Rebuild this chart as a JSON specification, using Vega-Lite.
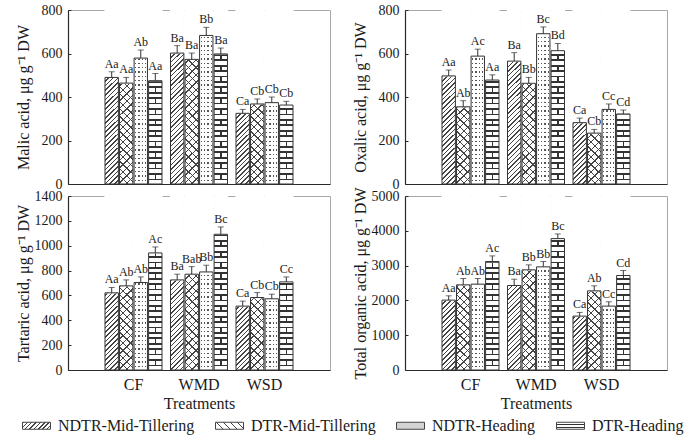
{
"$schema": "https://vega.github.io/schema/vega-lite/v6.json",
"padding": {"left": 14, "top": 2, "right": 5, "bottom": 2},
"params": [
{"name": "gH", "value": {"gradient": "linear", "x1": 0, "y1": 0, "x2": 0.082, "y2": 1.07, "stops": [
{"offset":0,"color":"#444"},{"offset":0.008,"color":"#444"},{"offset":0.008,"color":"#fff"},{"offset":0.025,"color":"#fff"},
{"offset":0.025,"color":"#444"},{"offset":0.033,"color":"#444"},{"offset":0.033,"color":"#fff"},{"offset":0.05,"color":"#fff"},
{"offset":0.05,"color":"#444"},{"offset":0.058,"color":"#444"},{"offset":0.058,"color":"#fff"},{"offset":0.075,"color":"#fff"},
{"offset":0.075,"color":"#444"},{"offset":0.083,"color":"#444"},{"offset":0.083,"color":"#fff"},{"offset":0.1,"color":"#fff"},
{"offset":0.1,"color":"#444"},{"offset":0.108,"color":"#444"},{"offset":0.108,"color":"#fff"},{"offset":0.125,"color":"#fff"},
{"offset":0.125,"color":"#444"},{"offset":0.133,"color":"#444"},{"offset":0.133,"color":"#fff"},{"offset":0.15,"color":"#fff"},
{"offset":0.15,"color":"#444"},{"offset":0.158,"color":"#444"},{"offset":0.158,"color":"#fff"},{"offset":0.175,"color":"#fff"},
{"offset":0.175,"color":"#444"},{"offset":0.183,"color":"#444"},{"offset":0.183,"color":"#fff"},{"offset":0.2,"color":"#fff"},
{"offset":0.2,"color":"#444"},{"offset":0.208,"color":"#444"},{"offset":0.208,"color":"#fff"},{"offset":0.225,"color":"#fff"},
{"offset":0.225,"color":"#444"},{"offset":0.233,"color":"#444"},{"offset":0.233,"color":"#fff"},{"offset":0.25,"color":"#fff"},
{"offset":0.25,"color":"#444"},{"offset":0.258,"color":"#444"},{"offset":0.258,"color":"#fff"},{"offset":0.275,"color":"#fff"},
{"offset":0.275,"color":"#444"},{"offset":0.283,"color":"#444"},{"offset":0.283,"color":"#fff"},{"offset":0.3,"color":"#fff"},
{"offset":0.3,"color":"#444"},{"offset":0.308,"color":"#444"},{"offset":0.308,"color":"#fff"},{"offset":0.325,"color":"#fff"},
{"offset":0.325,"color":"#444"},{"offset":0.333,"color":"#444"},{"offset":0.333,"color":"#fff"},{"offset":0.35,"color":"#fff"},
{"offset":0.35,"color":"#444"},{"offset":0.358,"color":"#444"},{"offset":0.358,"color":"#fff"},{"offset":0.375,"color":"#fff"},
{"offset":0.375,"color":"#444"},{"offset":0.383,"color":"#444"},{"offset":0.383,"color":"#fff"},{"offset":0.4,"color":"#fff"},
{"offset":0.4,"color":"#444"},{"offset":0.408,"color":"#444"},{"offset":0.408,"color":"#fff"},{"offset":0.425,"color":"#fff"},
{"offset":0.425,"color":"#444"},{"offset":0.433,"color":"#444"},{"offset":0.433,"color":"#fff"},{"offset":0.45,"color":"#fff"},
{"offset":0.45,"color":"#444"},{"offset":0.458,"color":"#444"},{"offset":0.458,"color":"#fff"},{"offset":0.475,"color":"#fff"},
{"offset":0.475,"color":"#444"},{"offset":0.483,"color":"#444"},{"offset":0.483,"color":"#fff"},{"offset":0.5,"color":"#fff"},
{"offset":0.5,"color":"#444"},{"offset":0.508,"color":"#444"},{"offset":0.508,"color":"#fff"},{"offset":0.525,"color":"#fff"},
{"offset":0.525,"color":"#444"},{"offset":0.533,"color":"#444"},{"offset":0.533,"color":"#fff"},{"offset":0.55,"color":"#fff"},
{"offset":0.55,"color":"#444"},{"offset":0.558,"color":"#444"},{"offset":0.558,"color":"#fff"},{"offset":0.575,"color":"#fff"},
{"offset":0.575,"color":"#444"},{"offset":0.583,"color":"#444"},{"offset":0.583,"color":"#fff"},{"offset":0.6,"color":"#fff"},
{"offset":0.6,"color":"#444"},{"offset":0.608,"color":"#444"},{"offset":0.608,"color":"#fff"},{"offset":0.625,"color":"#fff"},
{"offset":0.625,"color":"#444"},{"offset":0.633,"color":"#444"},{"offset":0.633,"color":"#fff"},{"offset":0.65,"color":"#fff"},
{"offset":0.65,"color":"#444"},{"offset":0.658,"color":"#444"},{"offset":0.658,"color":"#fff"},{"offset":0.675,"color":"#fff"},
{"offset":0.675,"color":"#444"},{"offset":0.683,"color":"#444"},{"offset":0.683,"color":"#fff"},{"offset":0.7,"color":"#fff"},
{"offset":0.7,"color":"#444"},{"offset":0.708,"color":"#444"},{"offset":0.708,"color":"#fff"},{"offset":0.725,"color":"#fff"},
{"offset":0.725,"color":"#444"},{"offset":0.733,"color":"#444"},{"offset":0.733,"color":"#fff"},{"offset":0.75,"color":"#fff"},
{"offset":0.75,"color":"#444"},{"offset":0.758,"color":"#444"},{"offset":0.758,"color":"#fff"},{"offset":0.775,"color":"#fff"},
{"offset":0.775,"color":"#444"},{"offset":0.783,"color":"#444"},{"offset":0.783,"color":"#fff"},{"offset":0.8,"color":"#fff"},
{"offset":0.8,"color":"#444"},{"offset":0.808,"color":"#444"},{"offset":0.808,"color":"#fff"},{"offset":0.825,"color":"#fff"},
{"offset":0.825,"color":"#444"},{"offset":0.833,"color":"#444"},{"offset":0.833,"color":"#fff"},{"offset":0.85,"color":"#fff"},
{"offset":0.85,"color":"#444"},{"offset":0.858,"color":"#444"},{"offset":0.858,"color":"#fff"},{"offset":0.875,"color":"#fff"},
{"offset":0.875,"color":"#444"},{"offset":0.883,"color":"#444"},{"offset":0.883,"color":"#fff"},{"offset":0.9,"color":"#fff"},
{"offset":0.9,"color":"#444"},{"offset":0.908,"color":"#444"},{"offset":0.908,"color":"#fff"},{"offset":0.925,"color":"#fff"},
{"offset":0.925,"color":"#444"},{"offset":0.933,"color":"#444"},{"offset":0.933,"color":"#fff"},{"offset":0.95,"color":"#fff"},
{"offset":0.95,"color":"#444"},{"offset":0.958,"color":"#444"},{"offset":0.958,"color":"#fff"},{"offset":0.975,"color":"#fff"},
{"offset":0.975,"color":"#444"},{"offset":0.983,"color":"#444"},{"offset":0.983,"color":"#fff"},{"offset":1,"color":"#fff"}
]}},
{"name": "gC1", "value": {"gradient": "linear", "x1": 0, "y1": 0, "x2": 0.082, "y2": 1.07, "stops": [
{"offset":0,"color":"#444"},{"offset":0.007,"color":"#444"},{"offset":0.007,"color":"#fff"},{"offset":0.04,"color":"#fff"},
{"offset":0.04,"color":"#444"},{"offset":0.047,"color":"#444"},{"offset":0.047,"color":"#fff"},{"offset":0.08,"color":"#fff"},
{"offset":0.08,"color":"#444"},{"offset":0.087,"color":"#444"},{"offset":0.087,"color":"#fff"},{"offset":0.12,"color":"#fff"},
{"offset":0.12,"color":"#444"},{"offset":0.127,"color":"#444"},{"offset":0.127,"color":"#fff"},{"offset":0.16,"color":"#fff"},
{"offset":0.16,"color":"#444"},{"offset":0.167,"color":"#444"},{"offset":0.167,"color":"#fff"},{"offset":0.2,"color":"#fff"},
{"offset":0.2,"color":"#444"},{"offset":0.207,"color":"#444"},{"offset":0.207,"color":"#fff"},{"offset":0.24,"color":"#fff"},
{"offset":0.24,"color":"#444"},{"offset":0.247,"color":"#444"},{"offset":0.247,"color":"#fff"},{"offset":0.28,"color":"#fff"},
{"offset":0.28,"color":"#444"},{"offset":0.287,"color":"#444"},{"offset":0.287,"color":"#fff"},{"offset":0.32,"color":"#fff"},
{"offset":0.32,"color":"#444"},{"offset":0.327,"color":"#444"},{"offset":0.327,"color":"#fff"},{"offset":0.36,"color":"#fff"},
{"offset":0.36,"color":"#444"},{"offset":0.367,"color":"#444"},{"offset":0.367,"color":"#fff"},{"offset":0.4,"color":"#fff"},
{"offset":0.4,"color":"#444"},{"offset":0.407,"color":"#444"},{"offset":0.407,"color":"#fff"},{"offset":0.44,"color":"#fff"},
{"offset":0.44,"color":"#444"},{"offset":0.447,"color":"#444"},{"offset":0.447,"color":"#fff"},{"offset":0.48,"color":"#fff"},
{"offset":0.48,"color":"#444"},{"offset":0.487,"color":"#444"},{"offset":0.487,"color":"#fff"},{"offset":0.52,"color":"#fff"},
{"offset":0.52,"color":"#444"},{"offset":0.527,"color":"#444"},{"offset":0.527,"color":"#fff"},{"offset":0.56,"color":"#fff"},
{"offset":0.56,"color":"#444"},{"offset":0.567,"color":"#444"},{"offset":0.567,"color":"#fff"},{"offset":0.6,"color":"#fff"},
{"offset":0.6,"color":"#444"},{"offset":0.607,"color":"#444"},{"offset":0.607,"color":"#fff"},{"offset":0.64,"color":"#fff"},
{"offset":0.64,"color":"#444"},{"offset":0.647,"color":"#444"},{"offset":0.647,"color":"#fff"},{"offset":0.68,"color":"#fff"},
{"offset":0.68,"color":"#444"},{"offset":0.687,"color":"#444"},{"offset":0.687,"color":"#fff"},{"offset":0.72,"color":"#fff"},
{"offset":0.72,"color":"#444"},{"offset":0.727,"color":"#444"},{"offset":0.727,"color":"#fff"},{"offset":0.76,"color":"#fff"},
{"offset":0.76,"color":"#444"},{"offset":0.767,"color":"#444"},{"offset":0.767,"color":"#fff"},{"offset":0.8,"color":"#fff"},
{"offset":0.8,"color":"#444"},{"offset":0.807,"color":"#444"},{"offset":0.807,"color":"#fff"},{"offset":0.84,"color":"#fff"},
{"offset":0.84,"color":"#444"},{"offset":0.847,"color":"#444"},{"offset":0.847,"color":"#fff"},{"offset":0.88,"color":"#fff"},
{"offset":0.88,"color":"#444"},{"offset":0.887,"color":"#444"},{"offset":0.887,"color":"#fff"},{"offset":0.92,"color":"#fff"},
{"offset":0.92,"color":"#444"},{"offset":0.927,"color":"#444"},{"offset":0.927,"color":"#fff"},{"offset":0.96,"color":"#fff"},
{"offset":0.96,"color":"#444"},{"offset":0.967,"color":"#444"},{"offset":0.967,"color":"#fff"},{"offset":1,"color":"#fff"}
]}},
{"name": "gC2", "value": {"gradient": "linear", "x1": 0, "y1": 1, "x2": 0.082, "y2": -0.07, "stops": [
{"offset":0,"color":"#444"},{"offset":0.007,"color":"#444"},{"offset":0.007,"color":"rgba(255,255,255,0)"},{"offset":0.04,"color":"rgba(255,255,255,0)"},
{"offset":0.04,"color":"#444"},{"offset":0.047,"color":"#444"},{"offset":0.047,"color":"rgba(255,255,255,0)"},{"offset":0.08,"color":"rgba(255,255,255,0)"},
{"offset":0.08,"color":"#444"},{"offset":0.087,"color":"#444"},{"offset":0.087,"color":"rgba(255,255,255,0)"},{"offset":0.12,"color":"rgba(255,255,255,0)"},
{"offset":0.12,"color":"#444"},{"offset":0.127,"color":"#444"},{"offset":0.127,"color":"rgba(255,255,255,0)"},{"offset":0.16,"color":"rgba(255,255,255,0)"},
{"offset":0.16,"color":"#444"},{"offset":0.167,"color":"#444"},{"offset":0.167,"color":"rgba(255,255,255,0)"},{"offset":0.2,"color":"rgba(255,255,255,0)"},
{"offset":0.2,"color":"#444"},{"offset":0.207,"color":"#444"},{"offset":0.207,"color":"rgba(255,255,255,0)"},{"offset":0.24,"color":"rgba(255,255,255,0)"},
{"offset":0.24,"color":"#444"},{"offset":0.247,"color":"#444"},{"offset":0.247,"color":"rgba(255,255,255,0)"},{"offset":0.28,"color":"rgba(255,255,255,0)"},
{"offset":0.28,"color":"#444"},{"offset":0.287,"color":"#444"},{"offset":0.287,"color":"rgba(255,255,255,0)"},{"offset":0.32,"color":"rgba(255,255,255,0)"},
{"offset":0.32,"color":"#444"},{"offset":0.327,"color":"#444"},{"offset":0.327,"color":"rgba(255,255,255,0)"},{"offset":0.36,"color":"rgba(255,255,255,0)"},
{"offset":0.36,"color":"#444"},{"offset":0.367,"color":"#444"},{"offset":0.367,"color":"rgba(255,255,255,0)"},{"offset":0.4,"color":"rgba(255,255,255,0)"},
{"offset":0.4,"color":"#444"},{"offset":0.407,"color":"#444"},{"offset":0.407,"color":"rgba(255,255,255,0)"},{"offset":0.44,"color":"rgba(255,255,255,0)"},
{"offset":0.44,"color":"#444"},{"offset":0.447,"color":"#444"},{"offset":0.447,"color":"rgba(255,255,255,0)"},{"offset":0.48,"color":"rgba(255,255,255,0)"},
{"offset":0.48,"color":"#444"},{"offset":0.487,"color":"#444"},{"offset":0.487,"color":"rgba(255,255,255,0)"},{"offset":0.52,"color":"rgba(255,255,255,0)"},
{"offset":0.52,"color":"#444"},{"offset":0.527,"color":"#444"},{"offset":0.527,"color":"rgba(255,255,255,0)"},{"offset":0.56,"color":"rgba(255,255,255,0)"},
{"offset":0.56,"color":"#444"},{"offset":0.567,"color":"#444"},{"offset":0.567,"color":"rgba(255,255,255,0)"},{"offset":0.6,"color":"rgba(255,255,255,0)"},
{"offset":0.6,"color":"#444"},{"offset":0.607,"color":"#444"},{"offset":0.607,"color":"rgba(255,255,255,0)"},{"offset":0.64,"color":"rgba(255,255,255,0)"},
{"offset":0.64,"color":"#444"},{"offset":0.647,"color":"#444"},{"offset":0.647,"color":"rgba(255,255,255,0)"},{"offset":0.68,"color":"rgba(255,255,255,0)"},
{"offset":0.68,"color":"#444"},{"offset":0.687,"color":"#444"},{"offset":0.687,"color":"rgba(255,255,255,0)"},{"offset":0.72,"color":"rgba(255,255,255,0)"},
{"offset":0.72,"color":"#444"},{"offset":0.727,"color":"#444"},{"offset":0.727,"color":"rgba(255,255,255,0)"},{"offset":0.76,"color":"rgba(255,255,255,0)"},
{"offset":0.76,"color":"#444"},{"offset":0.767,"color":"#444"},{"offset":0.767,"color":"rgba(255,255,255,0)"},{"offset":0.8,"color":"rgba(255,255,255,0)"},
{"offset":0.8,"color":"#444"},{"offset":0.807,"color":"#444"},{"offset":0.807,"color":"rgba(255,255,255,0)"},{"offset":0.84,"color":"rgba(255,255,255,0)"},
{"offset":0.84,"color":"#444"},{"offset":0.847,"color":"#444"},{"offset":0.847,"color":"rgba(255,255,255,0)"},{"offset":0.88,"color":"rgba(255,255,255,0)"},
{"offset":0.88,"color":"#444"},{"offset":0.887,"color":"#444"},{"offset":0.887,"color":"rgba(255,255,255,0)"},{"offset":0.92,"color":"rgba(255,255,255,0)"},
{"offset":0.92,"color":"#444"},{"offset":0.927,"color":"#444"},{"offset":0.927,"color":"rgba(255,255,255,0)"},{"offset":0.96,"color":"rgba(255,255,255,0)"},
{"offset":0.96,"color":"#444"},{"offset":0.967,"color":"#444"},{"offset":0.967,"color":"rgba(255,255,255,0)"},{"offset":1,"color":"rgba(255,255,255,0)"}
]}},
{"name": "gD1", "value": {"gradient": "linear", "x1": 0, "y1": 0, "x2": 1, "y2": 0, "stops": [
{"offset":0,"color":"#fff"},{"offset":0.075,"color":"#fff"},{"offset":0.075,"color":"#555"},{"offset":0.175,"color":"#555"},{"offset":0.175,"color":"#fff"},
{"offset":0.325,"color":"#fff"},{"offset":0.325,"color":"#555"},{"offset":0.425,"color":"#555"},{"offset":0.425,"color":"#fff"},
{"offset":0.575,"color":"#fff"},{"offset":0.575,"color":"#555"},{"offset":0.675,"color":"#555"},{"offset":0.675,"color":"#fff"},
{"offset":0.825,"color":"#fff"},{"offset":0.825,"color":"#555"},{"offset":0.925,"color":"#555"},{"offset":0.925,"color":"#fff"},{"offset":1,"color":"#fff"}
]}},
{"name": "gD2", "value": {"gradient": "linear", "x1": 0, "y1": 0, "x2": 0, "y2": 1, "stops": [
{"offset":0,"color":"rgba(255,255,255,0)"},{"offset":0.008,"color":"rgba(255,255,255,0)"},{"offset":0.008,"color":"#fff"},{"offset":0.025,"color":"#fff"},
{"offset":0.025,"color":"rgba(255,255,255,0)"},{"offset":0.033,"color":"rgba(255,255,255,0)"},{"offset":0.033,"color":"#fff"},{"offset":0.05,"color":"#fff"},
{"offset":0.05,"color":"rgba(255,255,255,0)"},{"offset":0.058,"color":"rgba(255,255,255,0)"},{"offset":0.058,"color":"#fff"},{"offset":0.075,"color":"#fff"},
{"offset":0.075,"color":"rgba(255,255,255,0)"},{"offset":0.083,"color":"rgba(255,255,255,0)"},{"offset":0.083,"color":"#fff"},{"offset":0.1,"color":"#fff"},
{"offset":0.1,"color":"rgba(255,255,255,0)"},{"offset":0.108,"color":"rgba(255,255,255,0)"},{"offset":0.108,"color":"#fff"},{"offset":0.125,"color":"#fff"},
{"offset":0.125,"color":"rgba(255,255,255,0)"},{"offset":0.133,"color":"rgba(255,255,255,0)"},{"offset":0.133,"color":"#fff"},{"offset":0.15,"color":"#fff"},
{"offset":0.15,"color":"rgba(255,255,255,0)"},{"offset":0.158,"color":"rgba(255,255,255,0)"},{"offset":0.158,"color":"#fff"},{"offset":0.175,"color":"#fff"},
{"offset":0.175,"color":"rgba(255,255,255,0)"},{"offset":0.183,"color":"rgba(255,255,255,0)"},{"offset":0.183,"color":"#fff"},{"offset":0.2,"color":"#fff"},
{"offset":0.2,"color":"rgba(255,255,255,0)"},{"offset":0.208,"color":"rgba(255,255,255,0)"},{"offset":0.208,"color":"#fff"},{"offset":0.225,"color":"#fff"},
{"offset":0.225,"color":"rgba(255,255,255,0)"},{"offset":0.233,"color":"rgba(255,255,255,0)"},{"offset":0.233,"color":"#fff"},{"offset":0.25,"color":"#fff"},
{"offset":0.25,"color":"rgba(255,255,255,0)"},{"offset":0.258,"color":"rgba(255,255,255,0)"},{"offset":0.258,"color":"#fff"},{"offset":0.275,"color":"#fff"},
{"offset":0.275,"color":"rgba(255,255,255,0)"},{"offset":0.283,"color":"rgba(255,255,255,0)"},{"offset":0.283,"color":"#fff"},{"offset":0.3,"color":"#fff"},
{"offset":0.3,"color":"rgba(255,255,255,0)"},{"offset":0.308,"color":"rgba(255,255,255,0)"},{"offset":0.308,"color":"#fff"},{"offset":0.325,"color":"#fff"},
{"offset":0.325,"color":"rgba(255,255,255,0)"},{"offset":0.333,"color":"rgba(255,255,255,0)"},{"offset":0.333,"color":"#fff"},{"offset":0.35,"color":"#fff"},
{"offset":0.35,"color":"rgba(255,255,255,0)"},{"offset":0.358,"color":"rgba(255,255,255,0)"},{"offset":0.358,"color":"#fff"},{"offset":0.375,"color":"#fff"},
{"offset":0.375,"color":"rgba(255,255,255,0)"},{"offset":0.383,"color":"rgba(255,255,255,0)"},{"offset":0.383,"color":"#fff"},{"offset":0.4,"color":"#fff"},
{"offset":0.4,"color":"rgba(255,255,255,0)"},{"offset":0.408,"color":"rgba(255,255,255,0)"},{"offset":0.408,"color":"#fff"},{"offset":0.425,"color":"#fff"},
{"offset":0.425,"color":"rgba(255,255,255,0)"},{"offset":0.433,"color":"rgba(255,255,255,0)"},{"offset":0.433,"color":"#fff"},{"offset":0.45,"color":"#fff"},
{"offset":0.45,"color":"rgba(255,255,255,0)"},{"offset":0.458,"color":"rgba(255,255,255,0)"},{"offset":0.458,"color":"#fff"},{"offset":0.475,"color":"#fff"},
{"offset":0.475,"color":"rgba(255,255,255,0)"},{"offset":0.483,"color":"rgba(255,255,255,0)"},{"offset":0.483,"color":"#fff"},{"offset":0.5,"color":"#fff"},
{"offset":0.5,"color":"rgba(255,255,255,0)"},{"offset":0.508,"color":"rgba(255,255,255,0)"},{"offset":0.508,"color":"#fff"},{"offset":0.525,"color":"#fff"},
{"offset":0.525,"color":"rgba(255,255,255,0)"},{"offset":0.533,"color":"rgba(255,255,255,0)"},{"offset":0.533,"color":"#fff"},{"offset":0.55,"color":"#fff"},
{"offset":0.55,"color":"rgba(255,255,255,0)"},{"offset":0.558,"color":"rgba(255,255,255,0)"},{"offset":0.558,"color":"#fff"},{"offset":0.575,"color":"#fff"},
{"offset":0.575,"color":"rgba(255,255,255,0)"},{"offset":0.583,"color":"rgba(255,255,255,0)"},{"offset":0.583,"color":"#fff"},{"offset":0.6,"color":"#fff"},
{"offset":0.6,"color":"rgba(255,255,255,0)"},{"offset":0.608,"color":"rgba(255,255,255,0)"},{"offset":0.608,"color":"#fff"},{"offset":0.625,"color":"#fff"},
{"offset":0.625,"color":"rgba(255,255,255,0)"},{"offset":0.633,"color":"rgba(255,255,255,0)"},{"offset":0.633,"color":"#fff"},{"offset":0.65,"color":"#fff"},
{"offset":0.65,"color":"rgba(255,255,255,0)"},{"offset":0.658,"color":"rgba(255,255,255,0)"},{"offset":0.658,"color":"#fff"},{"offset":0.675,"color":"#fff"},
{"offset":0.675,"color":"rgba(255,255,255,0)"},{"offset":0.683,"color":"rgba(255,255,255,0)"},{"offset":0.683,"color":"#fff"},{"offset":0.7,"color":"#fff"},
{"offset":0.7,"color":"rgba(255,255,255,0)"},{"offset":0.708,"color":"rgba(255,255,255,0)"},{"offset":0.708,"color":"#fff"},{"offset":0.725,"color":"#fff"},
{"offset":0.725,"color":"rgba(255,255,255,0)"},{"offset":0.733,"color":"rgba(255,255,255,0)"},{"offset":0.733,"color":"#fff"},{"offset":0.75,"color":"#fff"},
{"offset":0.75,"color":"rgba(255,255,255,0)"},{"offset":0.758,"color":"rgba(255,255,255,0)"},{"offset":0.758,"color":"#fff"},{"offset":0.775,"color":"#fff"},
{"offset":0.775,"color":"rgba(255,255,255,0)"},{"offset":0.783,"color":"rgba(255,255,255,0)"},{"offset":0.783,"color":"#fff"},{"offset":0.8,"color":"#fff"},
{"offset":0.8,"color":"rgba(255,255,255,0)"},{"offset":0.808,"color":"rgba(255,255,255,0)"},{"offset":0.808,"color":"#fff"},{"offset":0.825,"color":"#fff"},
{"offset":0.825,"color":"rgba(255,255,255,0)"},{"offset":0.833,"color":"rgba(255,255,255,0)"},{"offset":0.833,"color":"#fff"},{"offset":0.85,"color":"#fff"},
{"offset":0.85,"color":"rgba(255,255,255,0)"},{"offset":0.858,"color":"rgba(255,255,255,0)"},{"offset":0.858,"color":"#fff"},{"offset":0.875,"color":"#fff"},
{"offset":0.875,"color":"rgba(255,255,255,0)"},{"offset":0.883,"color":"rgba(255,255,255,0)"},{"offset":0.883,"color":"#fff"},{"offset":0.9,"color":"#fff"},
{"offset":0.9,"color":"rgba(255,255,255,0)"},{"offset":0.908,"color":"rgba(255,255,255,0)"},{"offset":0.908,"color":"#fff"},{"offset":0.925,"color":"#fff"},
{"offset":0.925,"color":"rgba(255,255,255,0)"},{"offset":0.933,"color":"rgba(255,255,255,0)"},{"offset":0.933,"color":"#fff"},{"offset":0.95,"color":"#fff"},
{"offset":0.95,"color":"rgba(255,255,255,0)"},{"offset":0.958,"color":"rgba(255,255,255,0)"},{"offset":0.958,"color":"#fff"},{"offset":0.975,"color":"#fff"},
{"offset":0.975,"color":"rgba(255,255,255,0)"},{"offset":0.983,"color":"rgba(255,255,255,0)"},{"offset":0.983,"color":"#fff"},{"offset":1,"color":"#fff"}
]}},
{"name": "gB1", "value": {"gradient": "linear", "x1": 0, "y1": 0, "x2": 1, "y2": 0, "stops": [
{"offset":0,"color":"#fff"},{"offset":0.44,"color":"#fff"},{"offset":0.44,"color":"#333"},{"offset":0.56,"color":"#333"},{"offset":0.56,"color":"#fff"},{"offset":1,"color":"#fff"}
]}},
{"name": "gB2", "value": {"gradient": "linear", "x1": 0, "y1": 0, "x2": 0, "y2": 1, "stops": [
{"offset":0,"color":"#333"},{"offset":0.01,"color":"#333"},{"offset":0.01,"color":"rgba(255,255,255,0)"},{"offset":0.03125,"color":"rgba(255,255,255,0)"},{"offset":0.03125,"color":"#333"},{"offset":0.04125,"color":"#333"},{"offset":0.04125,"color":"#fff"},{"offset":0.0625,"color":"#fff"},
{"offset":0.0625,"color":"#333"},{"offset":0.0725,"color":"#333"},{"offset":0.0725,"color":"rgba(255,255,255,0)"},{"offset":0.09375,"color":"rgba(255,255,255,0)"},{"offset":0.09375,"color":"#333"},{"offset":0.10375,"color":"#333"},{"offset":0.10375,"color":"#fff"},{"offset":0.125,"color":"#fff"},
{"offset":0.125,"color":"#333"},{"offset":0.135,"color":"#333"},{"offset":0.135,"color":"rgba(255,255,255,0)"},{"offset":0.15625,"color":"rgba(255,255,255,0)"},{"offset":0.15625,"color":"#333"},{"offset":0.16625,"color":"#333"},{"offset":0.16625,"color":"#fff"},{"offset":0.1875,"color":"#fff"},
{"offset":0.1875,"color":"#333"},{"offset":0.1975,"color":"#333"},{"offset":0.1975,"color":"rgba(255,255,255,0)"},{"offset":0.21875,"color":"rgba(255,255,255,0)"},{"offset":0.21875,"color":"#333"},{"offset":0.22875,"color":"#333"},{"offset":0.22875,"color":"#fff"},{"offset":0.25,"color":"#fff"},
{"offset":0.25,"color":"#333"},{"offset":0.26,"color":"#333"},{"offset":0.26,"color":"rgba(255,255,255,0)"},{"offset":0.28125,"color":"rgba(255,255,255,0)"},{"offset":0.28125,"color":"#333"},{"offset":0.29125,"color":"#333"},{"offset":0.29125,"color":"#fff"},{"offset":0.3125,"color":"#fff"},
{"offset":0.3125,"color":"#333"},{"offset":0.3225,"color":"#333"},{"offset":0.3225,"color":"rgba(255,255,255,0)"},{"offset":0.34375,"color":"rgba(255,255,255,0)"},{"offset":0.34375,"color":"#333"},{"offset":0.35375,"color":"#333"},{"offset":0.35375,"color":"#fff"},{"offset":0.375,"color":"#fff"},
{"offset":0.375,"color":"#333"},{"offset":0.385,"color":"#333"},{"offset":0.385,"color":"rgba(255,255,255,0)"},{"offset":0.40625,"color":"rgba(255,255,255,0)"},{"offset":0.40625,"color":"#333"},{"offset":0.41625,"color":"#333"},{"offset":0.41625,"color":"#fff"},{"offset":0.4375,"color":"#fff"},
{"offset":0.4375,"color":"#333"},{"offset":0.4475,"color":"#333"},{"offset":0.4475,"color":"rgba(255,255,255,0)"},{"offset":0.46875,"color":"rgba(255,255,255,0)"},{"offset":0.46875,"color":"#333"},{"offset":0.47875,"color":"#333"},{"offset":0.47875,"color":"#fff"},{"offset":0.5,"color":"#fff"},
{"offset":0.5,"color":"#333"},{"offset":0.51,"color":"#333"},{"offset":0.51,"color":"rgba(255,255,255,0)"},{"offset":0.53125,"color":"rgba(255,255,255,0)"},{"offset":0.53125,"color":"#333"},{"offset":0.54125,"color":"#333"},{"offset":0.54125,"color":"#fff"},{"offset":0.5625,"color":"#fff"},
{"offset":0.5625,"color":"#333"},{"offset":0.5725,"color":"#333"},{"offset":0.5725,"color":"rgba(255,255,255,0)"},{"offset":0.59375,"color":"rgba(255,255,255,0)"},{"offset":0.59375,"color":"#333"},{"offset":0.60375,"color":"#333"},{"offset":0.60375,"color":"#fff"},{"offset":0.625,"color":"#fff"},
{"offset":0.625,"color":"#333"},{"offset":0.635,"color":"#333"},{"offset":0.635,"color":"rgba(255,255,255,0)"},{"offset":0.65625,"color":"rgba(255,255,255,0)"},{"offset":0.65625,"color":"#333"},{"offset":0.66625,"color":"#333"},{"offset":0.66625,"color":"#fff"},{"offset":0.6875,"color":"#fff"},
{"offset":0.6875,"color":"#333"},{"offset":0.6975,"color":"#333"},{"offset":0.6975,"color":"rgba(255,255,255,0)"},{"offset":0.71875,"color":"rgba(255,255,255,0)"},{"offset":0.71875,"color":"#333"},{"offset":0.72875,"color":"#333"},{"offset":0.72875,"color":"#fff"},{"offset":0.75,"color":"#fff"},
{"offset":0.75,"color":"#333"},{"offset":0.76,"color":"#333"},{"offset":0.76,"color":"rgba(255,255,255,0)"},{"offset":0.78125,"color":"rgba(255,255,255,0)"},{"offset":0.78125,"color":"#333"},{"offset":0.79125,"color":"#333"},{"offset":0.79125,"color":"#fff"},{"offset":0.8125,"color":"#fff"},
{"offset":0.8125,"color":"#333"},{"offset":0.8225,"color":"#333"},{"offset":0.8225,"color":"rgba(255,255,255,0)"},{"offset":0.84375,"color":"rgba(255,255,255,0)"},{"offset":0.84375,"color":"#333"},{"offset":0.85375,"color":"#333"},{"offset":0.85375,"color":"#fff"},{"offset":0.875,"color":"#fff"},
{"offset":0.875,"color":"#333"},{"offset":0.885,"color":"#333"},{"offset":0.885,"color":"rgba(255,255,255,0)"},{"offset":0.90625,"color":"rgba(255,255,255,0)"},{"offset":0.90625,"color":"#333"},{"offset":0.91625,"color":"#333"},{"offset":0.91625,"color":"#fff"},{"offset":0.9375,"color":"#fff"},
{"offset":0.9375,"color":"#333"},{"offset":0.9475,"color":"#333"},{"offset":0.9475,"color":"rgba(255,255,255,0)"},{"offset":0.96875,"color":"rgba(255,255,255,0)"},{"offset":0.96875,"color":"#333"},{"offset":0.97875,"color":"#333"},{"offset":0.97875,"color":"#fff"},{"offset":1,"color":"#fff"}
]}},
{"name": "lH", "value": {"gradient": "linear", "x1": 0, "y1": 0, "x2": 1.176, "y2": 0.294, "stops": [
{"offset":0,"color":"#444"},{"offset":0.04,"color":"#444"},{"offset":0.04,"color":"#fff"},{"offset":0.125,"color":"#fff"},
{"offset":0.125,"color":"#444"},{"offset":0.165,"color":"#444"},{"offset":0.165,"color":"#fff"},{"offset":0.25,"color":"#fff"},
{"offset":0.25,"color":"#444"},{"offset":0.29,"color":"#444"},{"offset":0.29,"color":"#fff"},{"offset":0.375,"color":"#fff"},
{"offset":0.375,"color":"#444"},{"offset":0.415,"color":"#444"},{"offset":0.415,"color":"#fff"},{"offset":0.5,"color":"#fff"},
{"offset":0.5,"color":"#444"},{"offset":0.54,"color":"#444"},{"offset":0.54,"color":"#fff"},{"offset":0.625,"color":"#fff"},
{"offset":0.625,"color":"#444"},{"offset":0.665,"color":"#444"},{"offset":0.665,"color":"#fff"},{"offset":0.75,"color":"#fff"},
{"offset":0.75,"color":"#444"},{"offset":0.79,"color":"#444"},{"offset":0.79,"color":"#fff"},{"offset":0.875,"color":"#fff"},
{"offset":0.875,"color":"#444"},{"offset":0.915,"color":"#444"},{"offset":0.915,"color":"#fff"},{"offset":1,"color":"#fff"}
]}},
{"name": "lC", "value": {"gradient": "linear", "x1": 0, "y1": 1, "x2": 1.176, "y2": 0.706, "stops": [
{"offset":0,"color":"#444"},{"offset":0.04,"color":"#444"},{"offset":0.04,"color":"#fff"},{"offset":0.2,"color":"#fff"},
{"offset":0.2,"color":"#444"},{"offset":0.24,"color":"#444"},{"offset":0.24,"color":"#fff"},{"offset":0.4,"color":"#fff"},
{"offset":0.4,"color":"#444"},{"offset":0.44,"color":"#444"},{"offset":0.44,"color":"#fff"},{"offset":0.6,"color":"#fff"},
{"offset":0.6,"color":"#444"},{"offset":0.64,"color":"#444"},{"offset":0.64,"color":"#fff"},{"offset":0.8,"color":"#fff"},
{"offset":0.8,"color":"#444"},{"offset":0.84,"color":"#444"},{"offset":0.84,"color":"#fff"},{"offset":1,"color":"#fff"}
]}},
{"name": "lB", "value": {"gradient": "linear", "x1": 0, "y1": 0, "x2": 0, "y2": 1, "stops": [
{"offset":0,"color":"#fff"},{"offset":0.3,"color":"#fff"},{"offset":0.3,"color":"#333"},{"offset":0.45,"color":"#333"},{"offset":0.45,"color":"#fff"},
{"offset":0.62,"color":"#fff"},{"offset":0.62,"color":"#333"},{"offset":0.77,"color":"#333"},{"offset":0.77,"color":"#fff"},{"offset":1,"color":"#fff"}
]}}
],
"data": {"values": [
{"panel":"Malic","treatment":"CF","series":"NDTR-Mid-Tillering","value":490,"upper":516,"label":"Aa"},
{"panel":"Malic","treatment":"CF","series":"DTR-Mid-Tillering","value":464,"upper":490,"label":"Aa"},
{"panel":"Malic","treatment":"CF","series":"NDTR-Heading","value":579,"upper":616,"label":"Ab"},
{"panel":"Malic","treatment":"CF","series":"DTR-Heading","value":475,"upper":508,"label":"Aa"},
{"panel":"Malic","treatment":"WMD","series":"NDTR-Mid-Tillering","value":602,"upper":636,"label":"Ba"},
{"panel":"Malic","treatment":"WMD","series":"DTR-Mid-Tillering","value":573,"upper":602,"label":"Ba"},
{"panel":"Malic","treatment":"WMD","series":"NDTR-Heading","value":683,"upper":720,"label":"Bb"},
{"panel":"Malic","treatment":"WMD","series":"DTR-Heading","value":598,"upper":625,"label":"Ba"},
{"panel":"Malic","treatment":"WSD","series":"NDTR-Mid-Tillering","value":325,"upper":343,"label":"Ca"},
{"panel":"Malic","treatment":"WSD","series":"DTR-Mid-Tillering","value":368,"upper":391,"label":"Cb"},
{"panel":"Malic","treatment":"WSD","series":"NDTR-Heading","value":374,"upper":400,"label":"Cb"},
{"panel":"Malic","treatment":"WSD","series":"DTR-Heading","value":363,"upper":380,"label":"Cb"},
{"panel":"Oxalic","treatment":"CF","series":"NDTR-Mid-Tillering","value":497,"upper":524,"label":"Aa"},
{"panel":"Oxalic","treatment":"CF","series":"DTR-Mid-Tillering","value":355,"upper":383,"label":"Ab"},
{"panel":"Oxalic","treatment":"CF","series":"NDTR-Heading","value":588,"upper":620,"label":"Ac"},
{"panel":"Oxalic","treatment":"CF","series":"DTR-Heading","value":478,"upper":502,"label":"Aa"},
{"panel":"Oxalic","treatment":"WMD","series":"NDTR-Mid-Tillering","value":565,"upper":604,"label":"Ba"},
{"panel":"Oxalic","treatment":"WMD","series":"DTR-Mid-Tillering","value":463,"upper":490,"label":"Bb"},
{"panel":"Oxalic","treatment":"WMD","series":"NDTR-Heading","value":691,"upper":722,"label":"Bc"},
{"panel":"Oxalic","treatment":"WMD","series":"DTR-Heading","value":613,"upper":646,"label":"Bd"},
{"panel":"Oxalic","treatment":"WSD","series":"NDTR-Mid-Tillering","value":282,"upper":303,"label":"Ca"},
{"panel":"Oxalic","treatment":"WSD","series":"DTR-Mid-Tillering","value":234,"upper":251,"label":"Cb"},
{"panel":"Oxalic","treatment":"WSD","series":"NDTR-Heading","value":343,"upper":368,"label":"Cc"},
{"panel":"Oxalic","treatment":"WSD","series":"DTR-Heading","value":322,"upper":340,"label":"Cd"},
{"panel":"Tartaric","treatment":"CF","series":"NDTR-Mid-Tillering","value":621,"upper":664,"label":"Aa"},
{"panel":"Tartaric","treatment":"CF","series":"DTR-Mid-Tillering","value":677,"upper":725,"label":"Ab"},
{"panel":"Tartaric","treatment":"CF","series":"NDTR-Heading","value":704,"upper":749,"label":"Ab"},
{"panel":"Tartaric","treatment":"CF","series":"DTR-Heading","value":942,"upper":990,"label":"Ac"},
{"panel":"Tartaric","treatment":"WMD","series":"NDTR-Mid-Tillering","value":725,"upper":771,"label":"Ba"},
{"panel":"Tartaric","treatment":"WMD","series":"DTR-Mid-Tillering","value":771,"upper":832,"label":"Bab"},
{"panel":"Tartaric","treatment":"WMD","series":"NDTR-Heading","value":789,"upper":843,"label":"Bb"},
{"panel":"Tartaric","treatment":"WMD","series":"DTR-Heading","value":1092,"upper":1151,"label":"Bc"},
{"panel":"Tartaric","treatment":"WSD","series":"NDTR-Mid-Tillering","value":514,"upper":554,"label":"Ca"},
{"panel":"Tartaric","treatment":"WSD","series":"DTR-Mid-Tillering","value":583,"upper":623,"label":"Cb"},
{"panel":"Tartaric","treatment":"WSD","series":"NDTR-Heading","value":573,"upper":610,"label":"Cb"},
{"panel":"Tartaric","treatment":"WSD","series":"DTR-Heading","value":709,"upper":749,"label":"Cc"},
{"panel":"Total","treatment":"CF","series":"NDTR-Mid-Tillering","value":2008,"upper":2132,"label":"Aa"},
{"panel":"Total","treatment":"CF","series":"DTR-Mid-Tillering","value":2447,"upper":2629,"label":"Ab"},
{"panel":"Total","treatment":"CF","series":"NDTR-Heading","value":2467,"upper":2629,"label":"Ab"},
{"panel":"Total","treatment":"CF","series":"DTR-Heading","value":3117,"upper":3279,"label":"Ac"},
{"panel":"Total","treatment":"WMD","series":"NDTR-Mid-Tillering","value":2428,"upper":2610,"label":"Ba"},
{"panel":"Total","treatment":"WMD","series":"DTR-Mid-Tillering","value":2878,"upper":3021,"label":"Bb"},
{"panel":"Total","treatment":"WMD","series":"NDTR-Heading","value":2964,"upper":3117,"label":"Bb"},
{"panel":"Total","treatment":"WMD","series":"DTR-Heading","value":3776,"upper":3910,"label":"Bc"},
{"panel":"Total","treatment":"WSD","series":"NDTR-Mid-Tillering","value":1549,"upper":1654,"label":"Ca"},
{"panel":"Total","treatment":"WSD","series":"DTR-Mid-Tillering","value":2275,"upper":2419,"label":"Ab"},
{"panel":"Total","treatment":"WSD","series":"NDTR-Heading","value":1836,"upper":1960,"label":"Cc"},
{"panel":"Total","treatment":"WSD","series":"DTR-Heading","value":2715,"upper":2859,"label":"Cd"}
]},
"vconcat": [
{"hconcat": [
{"width": 262, "height": 174,
 "transform": [{"filter": "datum.panel === 'Malic'"}],
 "encoding": {
  "x": {"field": "treatment", "type": "nominal", "scale": {"domain": ["CF","WMD","WSD"], "paddingInner": 0.13, "paddingOuter": 0.565}, "axis": {"labels": false, "title": null, "domain": true}},
  "xOffset": {"field": "series", "type": "nominal", "scale": {"domain": ["NDTR-Mid-Tillering","DTR-Mid-Tillering","NDTR-Heading","DTR-Heading"], "paddingInner": 0.08, "paddingOuter": 0}}
 },
 "layer": [
  {"mark": {"type": "bar"}, "encoding": {"y": {"datum": 797, "type": "quantitative", "scale": {"domain": [0, 800], "nice": false}, "axis": {"title": "Malic acid, μg g⁻¹ DW", "values": [0,200,400,600,800]}}, "y2": {"datum": 0}, "fill": {"value": {"expr": "datum.series === 'NDTR-Mid-Tillering' ? gH : datum.series === 'DTR-Mid-Tillering' ? gC1 : datum.series === 'NDTR-Heading' ? gD1 : gB1"}}}},
  {"mark": {"type": "bar"}, "encoding": {"y": {"datum": 797, "type": "quantitative", "axis": {"title": "Malic acid, μg g⁻¹ DW", "values": [0,200,400,600,800]}}, "y2": {"datum": 0}, "fill": {"value": {"expr": "datum.series === 'NDTR-Mid-Tillering' ? 'transparent' : datum.series === 'DTR-Mid-Tillering' ? gC2 : datum.series === 'NDTR-Heading' ? gD2 : gB2"}}}},
  {"mark": {"type": "bar", "fill": "#fff", "stroke": "#fff", "strokeWidth": 1.2}, "encoding": {"y": {"field": "value", "type": "quantitative", "axis": {"title": "Malic acid, μg g⁻¹ DW", "values": [0,200,400,600,800]}}, "y2": {"datum": 797}}},
  {"mark": {"type": "bar", "fill": "transparent", "stroke": "#333", "strokeWidth": 1}, "encoding": {"y": {"field": "value", "type": "quantitative", "axis": {"title": "Malic acid, μg g⁻¹ DW", "values": [0,200,400,600,800]}}}},
  {"mark": {"type": "rule", "stroke": "#333", "strokeWidth": 1}, "encoding": {"y": {"field": "value", "type": "quantitative", "axis": {"title": "Malic acid, μg g⁻¹ DW", "values": [0,200,400,600,800]}}, "y2": {"field": "upper"}}},
  {"mark": {"type": "tick", "color": "#333", "thickness": 1, "size": 6}, "encoding": {"y": {"field": "upper", "type": "quantitative", "axis": {"title": "Malic acid, μg g⁻¹ DW", "values": [0,200,400,600,800]}}}},
  {"mark": {"type": "text", "baseline": "bottom", "dy": -1, "fontSize": 12, "color": "#1a1a1a"}, "encoding": {"y": {"field": "upper", "type": "quantitative", "axis": {"title": "Malic acid, μg g⁻¹ DW", "values": [0,200,400,600,800]}}, "text": {"field": "label"}}}
 ]},
{"width": 262, "height": 174,
 "transform": [{"filter": "datum.panel === 'Oxalic'"}],
 "encoding": {
  "x": {"field": "treatment", "type": "nominal", "scale": {"domain": ["CF","WMD","WSD"], "paddingInner": 0.13, "paddingOuter": 0.565}, "axis": {"labels": false, "title": null, "domain": true}},
  "xOffset": {"field": "series", "type": "nominal", "scale": {"domain": ["NDTR-Mid-Tillering","DTR-Mid-Tillering","NDTR-Heading","DTR-Heading"], "paddingInner": 0.08, "paddingOuter": 0}}
 },
 "layer": [
  {"mark": {"type": "bar"}, "encoding": {"y": {"datum": 797, "type": "quantitative", "scale": {"domain": [0, 800], "nice": false}, "axis": {"title": "Oxalic acid, μg g⁻¹ DW", "values": [0,200,400,600,800]}}, "y2": {"datum": 0}, "fill": {"value": {"expr": "datum.series === 'NDTR-Mid-Tillering' ? gH : datum.series === 'DTR-Mid-Tillering' ? gC1 : datum.series === 'NDTR-Heading' ? gD1 : gB1"}}}},
  {"mark": {"type": "bar"}, "encoding": {"y": {"datum": 797, "type": "quantitative", "axis": {"title": "Oxalic acid, μg g⁻¹ DW", "values": [0,200,400,600,800]}}, "y2": {"datum": 0}, "fill": {"value": {"expr": "datum.series === 'NDTR-Mid-Tillering' ? 'transparent' : datum.series === 'DTR-Mid-Tillering' ? gC2 : datum.series === 'NDTR-Heading' ? gD2 : gB2"}}}},
  {"mark": {"type": "bar", "fill": "#fff", "stroke": "#fff", "strokeWidth": 1.2}, "encoding": {"y": {"field": "value", "type": "quantitative", "axis": {"title": "Oxalic acid, μg g⁻¹ DW", "values": [0,200,400,600,800]}}, "y2": {"datum": 797}}},
  {"mark": {"type": "bar", "fill": "transparent", "stroke": "#333", "strokeWidth": 1}, "encoding": {"y": {"field": "value", "type": "quantitative", "axis": {"title": "Oxalic acid, μg g⁻¹ DW", "values": [0,200,400,600,800]}}}},
  {"mark": {"type": "rule", "stroke": "#333", "strokeWidth": 1}, "encoding": {"y": {"field": "value", "type": "quantitative", "axis": {"title": "Oxalic acid, μg g⁻¹ DW", "values": [0,200,400,600,800]}}, "y2": {"field": "upper"}}},
  {"mark": {"type": "tick", "color": "#333", "thickness": 1, "size": 6}, "encoding": {"y": {"field": "upper", "type": "quantitative", "axis": {"title": "Oxalic acid, μg g⁻¹ DW", "values": [0,200,400,600,800]}}}},
  {"mark": {"type": "text", "baseline": "bottom", "dy": -1, "fontSize": 12, "color": "#1a1a1a"}, "encoding": {"y": {"field": "upper", "type": "quantitative", "axis": {"title": "Oxalic acid, μg g⁻¹ DW", "values": [0,200,400,600,800]}}, "text": {"field": "label"}}}
 ]}
], "spacing": 20},
{"hconcat": [
{"width": 262, "height": 174,
 "transform": [{"filter": "datum.panel === 'Tartaric'"}],
 "encoding": {
  "x": {"field": "treatment", "type": "nominal", "scale": {"domain": ["CF","WMD","WSD"], "paddingInner": 0.13, "paddingOuter": 0.565}, "axis": {"title": "Treatments", "domain": true}},
  "xOffset": {"field": "series", "type": "nominal", "scale": {"domain": ["NDTR-Mid-Tillering","DTR-Mid-Tillering","NDTR-Heading","DTR-Heading"], "paddingInner": 0.08, "paddingOuter": 0}}
 },
 "layer": [
  {"mark": {"type": "bar"}, "encoding": {"y": {"datum": 1395, "type": "quantitative", "scale": {"domain": [0, 1400], "nice": false}, "axis": {"title": "Tartaric acid, μg g⁻¹ DW", "values": [0,200,400,600,800,1000,1200,1400]}}, "y2": {"datum": 0}, "fill": {"value": {"expr": "datum.series === 'NDTR-Mid-Tillering' ? gH : datum.series === 'DTR-Mid-Tillering' ? gC1 : datum.series === 'NDTR-Heading' ? gD1 : gB1"}}}},
  {"mark": {"type": "bar"}, "encoding": {"y": {"datum": 1395, "type": "quantitative", "axis": {"title": "Tartaric acid, μg g⁻¹ DW", "values": [0,200,400,600,800,1000,1200,1400]}}, "y2": {"datum": 0}, "fill": {"value": {"expr": "datum.series === 'NDTR-Mid-Tillering' ? 'transparent' : datum.series === 'DTR-Mid-Tillering' ? gC2 : datum.series === 'NDTR-Heading' ? gD2 : gB2"}}}},
  {"mark": {"type": "bar", "fill": "#fff", "stroke": "#fff", "strokeWidth": 1.2}, "encoding": {"y": {"field": "value", "type": "quantitative", "axis": {"title": "Tartaric acid, μg g⁻¹ DW", "values": [0,200,400,600,800,1000,1200,1400]}}, "y2": {"datum": 1395}}},
  {"mark": {"type": "bar", "fill": "transparent", "stroke": "#333", "strokeWidth": 1}, "encoding": {"y": {"field": "value", "type": "quantitative", "axis": {"title": "Tartaric acid, μg g⁻¹ DW", "values": [0,200,400,600,800,1000,1200,1400]}}}},
  {"mark": {"type": "rule", "stroke": "#333", "strokeWidth": 1}, "encoding": {"y": {"field": "value", "type": "quantitative", "axis": {"title": "Tartaric acid, μg g⁻¹ DW", "values": [0,200,400,600,800,1000,1200,1400]}}, "y2": {"field": "upper"}}},
  {"mark": {"type": "tick", "color": "#333", "thickness": 1, "size": 6}, "encoding": {"y": {"field": "upper", "type": "quantitative", "axis": {"title": "Tartaric acid, μg g⁻¹ DW", "values": [0,200,400,600,800,1000,1200,1400]}}}},
  {"mark": {"type": "text", "baseline": "bottom", "dy": -1, "fontSize": 12, "color": "#1a1a1a"}, "encoding": {"y": {"field": "upper", "type": "quantitative", "axis": {"title": "Tartaric acid, μg g⁻¹ DW", "values": [0,200,400,600,800,1000,1200,1400]}}, "text": {"field": "label"}}},
  {"mark": {"type": "bar"}, "encoding": {"y": {"datum": 0, "type": "quantitative", "axis": {"title": "Tartaric acid, μg g⁻¹ DW", "values": [0,200,400,600,800,1000,1200,1400]}}, "y2": {"datum": 0},
   "fill": {"field": "series", "type": "nominal", "scale": {"domain": ["NDTR-Mid-Tillering","DTR-Mid-Tillering","NDTR-Heading","DTR-Heading"], "range": [{"expr": "lH"}, {"expr": "lC"}, "#d4d4d4", {"expr": "lB"}]},
    "legend": {"orient": "none", "legendX": -46, "legendY": 401, "direction": "horizontal", "title": null, "symbolType": "M-1,-0.25H1V0.25H-1Z", "symbolSize": 784, "symbolStrokeColor": "#444", "symbolStrokeWidth": 1, "labelFontSize": 16, "labelOffset": 7, "columnPadding": 18, "padding": 0, "labelLimit": 0}}}}
 ]},
{"width": 262, "height": 174,
 "transform": [{"filter": "datum.panel === 'Total'"}],
 "encoding": {
  "x": {"field": "treatment", "type": "nominal", "scale": {"domain": ["CF","WMD","WSD"], "paddingInner": 0.13, "paddingOuter": 0.565}, "axis": {"title": "Treatments", "domain": true}},
  "xOffset": {"field": "series", "type": "nominal", "scale": {"domain": ["NDTR-Mid-Tillering","DTR-Mid-Tillering","NDTR-Heading","DTR-Heading"], "paddingInner": 0.08, "paddingOuter": 0}}
 },
 "layer": [
  {"mark": {"type": "bar"}, "encoding": {"y": {"datum": 4985, "type": "quantitative", "scale": {"domain": [0, 5000], "nice": false}, "axis": {"title": "Total organic acid, μg g⁻¹ DW", "values": [0,1000,2000,3000,4000,5000]}}, "y2": {"datum": 0}, "fill": {"value": {"expr": "datum.series === 'NDTR-Mid-Tillering' ? gH : datum.series === 'DTR-Mid-Tillering' ? gC1 : datum.series === 'NDTR-Heading' ? gD1 : gB1"}}}},
  {"mark": {"type": "bar"}, "encoding": {"y": {"datum": 4985, "type": "quantitative", "axis": {"title": "Total organic acid, μg g⁻¹ DW", "values": [0,1000,2000,3000,4000,5000]}}, "y2": {"datum": 0}, "fill": {"value": {"expr": "datum.series === 'NDTR-Mid-Tillering' ? 'transparent' : datum.series === 'DTR-Mid-Tillering' ? gC2 : datum.series === 'NDTR-Heading' ? gD2 : gB2"}}}},
  {"mark": {"type": "bar", "fill": "#fff", "stroke": "#fff", "strokeWidth": 1.2}, "encoding": {"y": {"field": "value", "type": "quantitative", "axis": {"title": "Total organic acid, μg g⁻¹ DW", "values": [0,1000,2000,3000,4000,5000]}}, "y2": {"datum": 4985}}},
  {"mark": {"type": "bar", "fill": "transparent", "stroke": "#333", "strokeWidth": 1}, "encoding": {"y": {"field": "value", "type": "quantitative", "axis": {"title": "Total organic acid, μg g⁻¹ DW", "values": [0,1000,2000,3000,4000,5000]}}}},
  {"mark": {"type": "rule", "stroke": "#333", "strokeWidth": 1}, "encoding": {"y": {"field": "value", "type": "quantitative", "axis": {"title": "Total organic acid, μg g⁻¹ DW", "values": [0,1000,2000,3000,4000,5000]}}, "y2": {"field": "upper"}}},
  {"mark": {"type": "tick", "color": "#333", "thickness": 1, "size": 6}, "encoding": {"y": {"field": "upper", "type": "quantitative", "axis": {"title": "Total organic acid, μg g⁻¹ DW", "values": [0,1000,2000,3000,4000,5000]}}}},
  {"mark": {"type": "text", "baseline": "bottom", "dy": -1, "fontSize": 12, "color": "#1a1a1a"}, "encoding": {"y": {"field": "upper", "type": "quantitative", "axis": {"title": "Total organic acid, μg g⁻¹ DW", "values": [0,1000,2000,3000,4000,5000]}}, "text": {"field": "label"}}}
 ]}
], "spacing": 20}
],
"spacing": -6,
"config": {
 "font": "Liberation Serif",
 "view": {"stroke": "#a8a8a8", "strokeWidth": 1},
 "axis": {"grid": false, "labelFontSize": 15, "labelColor": "#1a1a1a", "titleFontSize": 16, "titleFontWeight": "normal", "titleColor": "#1a1a1a", "domainColor": "#2a2a2a", "domainWidth": 1.2, "tickColor": "#2a2a2a"},
 "axisY": {"tickSize": -3, "labelPadding": 9, "labelFontSize": 14, "titleX": -45, "titleBaseline": "middle", "format": "d"},
 "axisX": {"ticks": false, "labelAngle": 0, "labelPadding": 6, "titlePadding": 3, "labelFontSize": 16},
 "legend": {"labelFont": "Liberation Serif", "labelColor": "#1a1a1a"}
}
}
